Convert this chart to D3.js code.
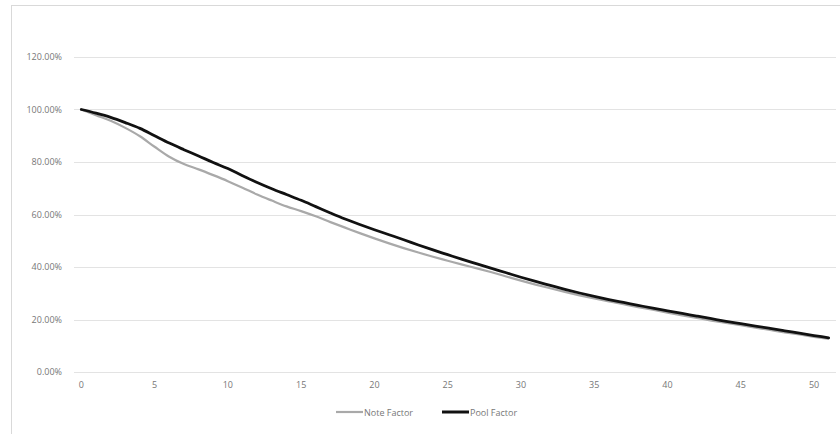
<!DOCTYPE html>
<html><head><meta charset="utf-8">
<script src="https://cdn.jsdelivr.net/npm/d3@7"></script>
<style>body{margin:0;background:#fff}svg{display:block}</style>
</head><body>
<script>
const periods = d3.range(0, 52);
const noteFactor = [100,97.8,95.7,93,89.8,85.8,82,79.2,77.2,75,72.7,70.2,67.6,65.3,63.1,61.3,59.3,57.1,55,52.9,50.9,49,47.2,45.5,43.9,42.4,40.9,39.5,38,36.4,34.8,33.3,31.9,30.5,29.2,28,26.9,25.8,24.7,23.7,22.6,21.6,20.6,19.6,18.7,17.8,16.9,16,15.1,14.3,13.4,12.6];
const poolFactor = [100,98.6,97,95,92.8,90,87.2,84.7,82.3,79.8,77.5,74.8,72.2,69.8,67.6,65.4,63,60.6,58.3,56.2,54.2,52.3,50.4,48.4,46.5,44.7,42.9,41.2,39.5,37.8,36.1,34.5,33,31.5,30.1,28.8,27.6,26.5,25.4,24.3,23.3,22.3,21.3,20.3,19.3,18.4,17.5,16.6,15.7,14.8,13.9,13];
const yTicks = [0,20,40,60,80,100,120];
const xTickLabels = [0,5,10,15,20,25,30,35,40,45,50];
const seriesNames = ["Note Factor","Pool Factor"];

const W = 840, H = 434;
const svg = d3.select("body").append("svg").attr("width", W).attr("height", H);
const font = "'Open Sans', 'Liberation Sans', sans-serif";
svg.append("rect").attr("x", 11.5).attr("y", 5.5).attr("width", 840).attr("height", 440)
  .attr("fill", "none").attr("stroke", "#d9d9d9");

const pLeft = 74, pRight = 836, pTop = 57, pBottom = 372;
const x = d3.scaleBand().domain(periods).range([pLeft, pRight]);
const y = d3.scaleLinear().domain([0, 120]).range([pBottom, pTop]);

const g = svg.append("g");
g.selectAll("line.grid").data(yTicks).join("line").attr("class","grid")
  .attr("x1", pLeft).attr("x2", pRight)
  .attr("y1", d => Math.round(y(d)) + 0.5).attr("y2", d => Math.round(y(d)) + 0.5)
  .attr("stroke", "#e3e3e3").attr("stroke-width", 1);

const yAxis = d3.axisLeft(y).tickValues(yTicks).tickSize(0).tickPadding(12)
  .tickFormat(d => d.toFixed(2) + "%");
svg.append("g").attr("transform", `translate(${pLeft},0)`).call(yAxis)
  .call(a => a.select(".domain").remove())
  .call(a => a.selectAll("text").attr("font-family", font).attr("font-size", 9).attr("fill", "#777"));

const xAxis = d3.axisBottom(x).tickValues(xTickLabels).tickSize(0).tickPadding(10);
svg.append("g").attr("transform", `translate(0,${pBottom})`).call(xAxis)
  .call(a => a.select(".domain").remove())
  .call(a => a.selectAll("text").attr("font-family", font).attr("font-size", 9).attr("fill", "#777"));

const line = d3.line().x((d, i) => x(periods[i]) + x.bandwidth() / 2).y(d => y(d)).curve(d3.curveMonotoneX);
svg.append("path").datum(noteFactor).attr("d", line).attr("fill", "none")
  .attr("stroke", "#a9a9a9").attr("stroke-width", 2.2).attr("stroke-linejoin", "round");
svg.append("path").datum(poolFactor).attr("d", line).attr("fill", "none")
  .attr("stroke", "#111").attr("stroke-width", 2.8).attr("stroke-linejoin", "round").attr("stroke-linecap", "round");

const legend = svg.append("g").attr("transform", "translate(0,412)");
const lx = [336, 442];
const lc = ["#a9a9a9", "#111"], lw = [2.2, 3];
seriesNames.forEach((n, i) => {
  legend.append("line").attr("x1", lx[i]).attr("x2", lx[i] + 27).attr("y1", 0).attr("y2", 0)
    .attr("stroke", lc[i]).attr("stroke-width", lw[i]);
  legend.append("text").attr("x", lx[i] + 28).attr("y", 3.5).text(n)
    .attr("font-family", font).attr("font-size", 9).attr("fill", "#777");
});
</script>
</body></html>
